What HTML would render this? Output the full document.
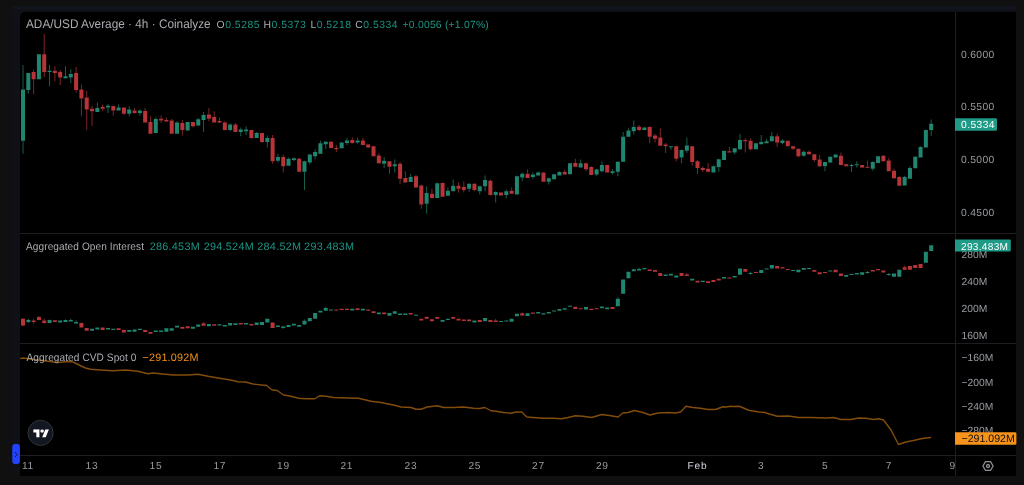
<!DOCTYPE html>
<html><head><meta charset="utf-8"><style>
html,body{margin:0;padding:0;}
body{width:1024px;height:485px;overflow:hidden;background:#101010;position:relative;font-family:"Liberation Sans",sans-serif;}
#frame{position:absolute;left:12px;top:6px;width:1004px;height:470px;background:#101116;}
#band{position:absolute;left:13px;top:6px;width:1003px;height:3px;background:#12151d;}
#chart{position:absolute;left:20px;top:12px;width:996px;height:464px;background:#000;border-top-left-radius:5px;}
#layer{position:absolute;left:0;top:0;width:1024px;height:485px;will-change:transform;}
svg{position:absolute;left:0;top:0;}
</style></head><body>
<div id="frame"></div>
<div id="band"></div>
<div id="chart"></div>
<div id="layer"><svg width="1024" height="485" viewBox="0 0 1024 485" font-family="Liberation Sans, sans-serif" text-rendering="geometricPrecision">
<defs>
<clipPath id="c1"><rect x="20" y="12" width="935" height="221"/></clipPath>
<clipPath id="c2"><rect x="20" y="234" width="935" height="109"/></clipPath>
<clipPath id="c3"><rect x="20" y="344" width="935" height="111"/></clipPath>
</defs>
<!-- separators -->
<rect x="20" y="233" width="996" height="1" fill="#1d1d22"/>
<rect x="20" y="343" width="996" height="1" fill="#1d1d22"/>
<rect x="20" y="455" width="996" height="1" fill="#1d1d22"/>
<rect x="955" y="12" width="1" height="464" fill="#1d1d22"/>
<g clip-path="url(#c1)"><path fill="#21866f" opacity="0.7" d="M22.50 65.00h1v24.50h-1zM22.50 140.75h1v13.00h-1zM27.81 90.00h1v3.75h-1zM49.05 65.00h1v5.75h-1zM49.05 72.00h1v14.25h-1zM64.99 66.25h1v10.00h-1zM64.99 78.25h1v0.50h-1zM70.30 69.25h1v4.75h-1zM70.30 77.50h1v5.75h-1zM96.85 102.50h1v5.50h-1zM107.48 104.00h1v1.75h-1zM107.48 107.50h1v5.50h-1zM118.10 104.50h1v3.00h-1zM128.72 106.25h1v3.25h-1zM128.72 113.75h1v2.50h-1zM139.34 109.50h1v1.00h-1zM139.34 113.00h1v2.50h-1zM155.28 117.50h1v1.50h-1zM176.52 121.25h1v1.25h-1zM197.76 118.00h1v1.25h-1zM197.76 125.50h1v0.75h-1zM203.07 112.00h1v3.00h-1zM203.07 120.00h1v12.00h-1zM229.63 123.25h1v1.25h-1zM229.63 130.00h1v1.25h-1zM240.25 127.50h1v2.00h-1zM240.25 132.00h1v4.25h-1zM245.56 126.25h1v3.25h-1zM245.56 131.25h1v3.75h-1zM256.18 132.00h1v1.00h-1zM266.81 135.50h1v2.50h-1zM266.81 142.00h1v5.50h-1zM277.43 153.75h1v3.25h-1zM277.43 160.75h1v1.75h-1zM288.05 157.50h1v1.25h-1zM293.36 157.50h1v0.75h-1zM293.36 160.00h1v1.25h-1zM303.98 160.75h1v0.50h-1zM303.98 171.75h1v18.25h-1zM309.29 153.75h1v0.75h-1zM309.29 162.50h1v2.00h-1zM314.61 149.50h1v2.50h-1zM314.61 156.25h1v3.25h-1zM319.92 140.75h1v2.50h-1zM325.23 141.25h1v0.50h-1zM325.23 144.25h1v4.50h-1zM341.16 142.00h1v0.50h-1zM346.47 138.00h1v2.50h-1zM346.47 143.00h1v2.00h-1zM357.09 138.00h1v2.50h-1zM357.09 142.50h1v1.25h-1zM383.65 157.00h1v3.75h-1zM383.65 163.75h1v4.25h-1zM394.27 159.50h1v4.75h-1zM394.27 166.25h1v6.25h-1zM410.20 173.75h1v3.25h-1zM426.14 186.25h1v6.75h-1zM426.14 203.75h1v10.00h-1zM436.76 182.50h1v0.75h-1zM447.38 187.50h1v3.25h-1zM452.69 179.50h1v6.25h-1zM468.62 183.25h1v0.50h-1zM468.62 188.75h1v3.00h-1zM479.25 185.50h1v0.75h-1zM479.25 191.25h1v3.25h-1zM484.56 175.50h1v4.50h-1zM484.56 186.25h1v5.00h-1zM495.18 191.25h1v0.75h-1zM495.18 195.00h1v7.50h-1zM505.80 189.50h1v1.75h-1zM505.80 195.00h1v3.25h-1zM516.42 175.50h1v0.75h-1zM521.73 172.50h1v1.25h-1zM521.73 177.50h1v3.75h-1zM532.36 172.50h1v2.00h-1zM532.36 177.00h1v1.75h-1zM537.67 171.25h1v1.25h-1zM548.29 177.50h1v0.75h-1zM548.29 181.75h1v2.75h-1zM553.60 173.75h1v0.50h-1zM558.91 171.25h1v0.75h-1zM580.15 159.50h1v3.75h-1zM596.09 168.75h1v0.75h-1zM596.09 174.50h1v1.75h-1zM601.40 161.25h1v3.75h-1zM601.40 171.25h1v1.25h-1zM612.02 169.25h1v2.00h-1zM612.02 173.00h1v1.50h-1zM617.33 161.25h1v0.50h-1zM617.33 171.75h1v4.50h-1zM622.64 132.00h1v4.75h-1zM627.95 128.00h1v2.50h-1zM633.26 120.50h1v6.50h-1zM633.26 131.25h1v3.25h-1zM643.89 127.00h1v0.50h-1zM670.44 147.00h1v3.00h-1zM681.06 149.50h1v0.50h-1zM681.06 157.50h1v5.75h-1zM686.38 137.50h1v8.00h-1zM686.38 150.75h1v2.25h-1zM712.93 165.50h1v0.75h-1zM718.24 158.75h1v0.50h-1zM718.24 167.00h1v4.75h-1zM734.17 152.50h1v1.75h-1zM739.49 133.75h1v6.25h-1zM739.49 149.25h1v0.75h-1zM760.73 135.00h1v7.00h-1zM766.04 138.75h1v2.50h-1zM771.35 132.00h1v4.25h-1zM781.97 139.25h1v1.25h-1zM781.97 143.00h1v1.25h-1zM803.22 150.50h1v1.25h-1zM803.22 155.75h1v1.00h-1zM824.46 166.25h1v5.00h-1zM829.77 156.25h1v0.50h-1zM829.77 162.50h1v0.75h-1zM835.08 153.75h1v0.75h-1zM835.08 157.50h1v0.75h-1zM851.02 163.75h1v1.25h-1zM851.02 165.75h1v6.25h-1zM856.33 161.25h1v3.00h-1zM856.33 165.00h1v2.50h-1zM872.26 161.25h1v0.75h-1zM872.26 168.75h1v2.00h-1zM904.13 175.75h1v1.25h-1zM909.44 166.25h1v1.75h-1zM914.75 156.25h1v0.50h-1zM920.06 146.25h1v0.75h-1zM925.37 129.50h1v0.50h-1zM930.68 119.50h1v4.25h-1zM930.68 130.00h1v5.75h-1z"/><path fill="#b73538" opacity="0.7" d="M33.12 69.50h1v2.50h-1zM33.12 79.25h1v15.25h-1zM43.74 34.00h1v20.25h-1zM43.74 72.00h1v5.00h-1zM54.37 66.25h1v4.50h-1zM54.37 73.00h1v8.25h-1zM59.68 70.00h1v2.00h-1zM59.68 77.50h1v7.50h-1zM75.61 67.00h1v6.00h-1zM75.61 90.00h1v2.50h-1zM80.92 84.50h1v5.00h-1zM80.92 98.50h1v17.75h-1zM86.23 90.75h1v6.75h-1zM86.23 109.50h1v20.50h-1zM91.54 105.75h1v3.00h-1zM91.54 111.25h1v14.50h-1zM102.16 104.50h1v2.50h-1zM102.16 108.75h1v2.50h-1zM112.79 110.50h1v5.25h-1zM123.41 113.75h1v1.25h-1zM134.03 108.00h1v2.50h-1zM134.03 113.00h1v0.75h-1zM144.65 108.00h1v3.00h-1zM149.96 116.25h1v5.75h-1zM160.59 115.50h1v3.25h-1zM160.59 120.50h1v2.50h-1zM165.90 117.50h1v2.50h-1zM171.21 119.00h1v1.50h-1zM181.83 120.00h1v3.00h-1zM181.83 130.00h1v5.50h-1zM192.45 126.25h1v1.25h-1zM208.38 108.00h1v6.50h-1zM208.38 118.75h1v2.50h-1zM213.70 111.25h1v5.75h-1zM219.01 117.50h1v3.50h-1zM219.01 122.50h1v0.50h-1zM224.32 121.25h1v1.25h-1zM224.32 130.00h1v0.50h-1zM234.94 123.00h1v1.50h-1zM250.87 138.00h1v0.75h-1zM261.50 142.00h1v1.00h-1zM272.12 135.00h1v3.00h-1zM272.12 161.25h1v2.50h-1zM282.74 154.50h1v2.50h-1zM282.74 166.25h1v6.25h-1zM298.67 158.00h1v0.75h-1zM330.54 141.25h1v0.50h-1zM335.85 145.00h1v3.00h-1zM335.85 149.25h1v2.75h-1zM351.78 137.50h1v2.50h-1zM351.78 143.00h1v0.75h-1zM362.40 138.00h1v2.50h-1zM367.71 143.75h1v0.75h-1zM367.71 147.50h1v0.75h-1zM373.03 145.75h1v0.50h-1zM378.34 153.00h1v2.50h-1zM378.34 163.25h1v0.50h-1zM388.96 166.75h1v7.00h-1zM399.58 162.00h1v1.75h-1zM399.58 178.75h1v5.00h-1zM404.89 171.25h1v6.75h-1zM415.51 175.00h1v1.25h-1zM415.51 187.50h1v0.50h-1zM420.82 184.50h1v1.00h-1zM420.82 204.50h1v4.25h-1zM431.45 188.75h1v5.00h-1zM431.45 198.00h1v0.75h-1zM442.07 182.50h1v0.50h-1zM458.00 182.50h1v3.25h-1zM458.00 188.75h1v3.75h-1zM463.31 181.25h1v5.75h-1zM463.31 190.00h1v2.50h-1zM473.94 183.25h1v0.50h-1zM473.94 190.00h1v1.25h-1zM489.87 179.50h1v1.25h-1zM489.87 195.00h1v0.50h-1zM500.49 192.00h1v0.50h-1zM511.11 187.50h1v3.25h-1zM527.05 169.25h1v4.50h-1zM564.22 170.00h1v2.00h-1zM574.84 158.75h1v4.25h-1zM585.47 162.50h1v0.75h-1zM585.47 169.25h1v2.00h-1zM590.78 166.25h1v0.75h-1zM638.58 125.00h1v1.75h-1zM638.58 130.00h1v1.25h-1zM649.20 126.25h1v0.75h-1zM649.20 136.75h1v6.50h-1zM654.51 133.75h1v1.75h-1zM654.51 138.75h1v3.75h-1zM659.82 128.25h1v9.25h-1zM665.13 143.00h1v1.50h-1zM665.13 146.25h1v6.75h-1zM675.75 145.75h1v0.50h-1zM675.75 158.75h1v2.50h-1zM691.69 162.00h1v3.50h-1zM697.00 160.00h1v1.25h-1zM697.00 168.00h1v6.25h-1zM702.31 166.25h1v1.75h-1zM702.31 170.00h1v2.00h-1zM707.62 163.00h1v5.75h-1zM707.62 171.75h1v0.75h-1zM728.86 147.00h1v4.25h-1zM744.80 138.25h1v1.75h-1zM744.80 141.25h1v11.25h-1zM750.11 138.25h1v2.50h-1zM750.11 149.25h1v1.25h-1zM776.66 133.75h1v2.50h-1zM776.66 142.50h1v4.25h-1zM792.60 145.75h1v0.50h-1zM792.60 148.75h1v1.25h-1zM797.91 156.25h1v1.25h-1zM808.53 150.50h1v1.25h-1zM813.84 160.00h1v1.75h-1zM819.15 155.00h1v4.50h-1zM819.15 166.25h1v0.50h-1zM840.39 152.50h1v3.25h-1zM840.39 165.00h1v0.50h-1zM845.71 163.75h1v0.50h-1zM861.64 167.50h1v0.50h-1zM866.95 160.50h1v6.25h-1zM866.95 167.50h1v0.50h-1zM882.88 155.00h1v0.75h-1zM882.88 161.25h1v0.50h-1zM888.19 158.25h1v2.25h-1zM893.50 168.75h1v2.00h-1zM893.50 178.25h1v0.50h-1zM898.81 176.25h1v0.75h-1zM898.81 185.75h1v0.50h-1z"/><path fill="#21866f" d="M21.00 89.50h4.0v51.25h-4.0zM26.31 73.00h4.0v17.00h-4.0zM36.93 54.25h4.0v25.00h-4.0zM47.55 70.75h4.0v1.25h-4.0zM63.49 76.25h4.0v2.00h-4.0zM68.80 74.00h4.0v3.50h-4.0zM95.35 108.00h4.0v4.00h-4.0zM105.98 105.75h4.0v1.75h-4.0zM116.60 107.50h4.0v3.00h-4.0zM127.22 109.50h4.0v4.25h-4.0zM137.84 110.50h4.0v2.50h-4.0zM153.78 119.00h4.0v14.00h-4.0zM175.02 122.50h4.0v11.25h-4.0zM185.64 122.00h4.0v8.50h-4.0zM196.26 119.25h4.0v6.25h-4.0zM201.57 115.00h4.0v5.00h-4.0zM228.13 124.50h4.0v5.50h-4.0zM238.75 129.50h4.0v2.50h-4.0zM244.06 129.50h4.0v1.75h-4.0zM254.68 133.00h4.0v5.00h-4.0zM265.31 138.00h4.0v4.00h-4.0zM275.93 157.00h4.0v3.75h-4.0zM286.55 158.75h4.0v7.00h-4.0zM291.86 158.25h4.0v1.75h-4.0zM302.48 161.25h4.0v10.50h-4.0zM307.79 154.50h4.0v8.00h-4.0zM313.11 152.00h4.0v4.25h-4.0zM318.42 143.25h4.0v10.50h-4.0zM323.73 141.75h4.0v2.50h-4.0zM339.66 142.50h4.0v5.75h-4.0zM344.97 140.50h4.0v2.50h-4.0zM355.59 140.50h4.0v2.00h-4.0zM382.15 160.75h4.0v3.00h-4.0zM392.77 164.25h4.0v2.00h-4.0zM408.70 177.00h4.0v5.00h-4.0zM424.64 193.00h4.0v10.75h-4.0zM435.26 183.25h4.0v14.75h-4.0zM445.88 190.75h4.0v5.00h-4.0zM451.19 185.75h4.0v5.50h-4.0zM467.12 183.75h4.0v5.00h-4.0zM477.75 186.25h4.0v5.00h-4.0zM483.06 180.00h4.0v6.25h-4.0zM493.68 192.00h4.0v3.00h-4.0zM504.30 191.25h4.0v3.75h-4.0zM514.92 176.25h4.0v18.25h-4.0zM520.23 173.75h4.0v3.75h-4.0zM530.86 174.50h4.0v2.50h-4.0zM536.17 172.50h4.0v3.00h-4.0zM546.79 178.25h4.0v3.50h-4.0zM552.10 174.25h4.0v5.00h-4.0zM557.41 172.00h4.0v3.50h-4.0zM568.03 163.25h4.0v11.00h-4.0zM578.65 163.25h4.0v4.25h-4.0zM594.59 169.50h4.0v5.00h-4.0zM599.90 165.00h4.0v6.25h-4.0zM610.52 171.25h4.0v1.75h-4.0zM615.83 161.75h4.0v10.00h-4.0zM621.14 136.75h4.0v25.00h-4.0zM626.45 130.50h4.0v6.25h-4.0zM631.76 127.00h4.0v4.25h-4.0zM642.39 127.50h4.0v2.50h-4.0zM668.94 146.25h4.0v1.00h-4.0zM679.56 150.00h4.0v7.50h-4.0zM684.88 145.50h4.0v5.25h-4.0zM711.43 166.25h4.0v6.25h-4.0zM716.74 159.25h4.0v7.75h-4.0zM722.05 150.75h4.0v9.25h-4.0zM732.67 148.25h4.0v4.25h-4.0zM737.99 140.00h4.0v9.25h-4.0zM753.92 143.25h4.0v6.00h-4.0zM759.23 142.00h4.0v2.25h-4.0zM764.54 141.25h4.0v2.00h-4.0zM769.85 136.25h4.0v5.00h-4.0zM780.47 140.50h4.0v2.50h-4.0zM801.72 151.75h4.0v4.00h-4.0zM822.96 162.00h4.0v4.25h-4.0zM828.27 156.75h4.0v5.75h-4.0zM833.58 154.50h4.0v3.00h-4.0zM849.52 165.00h4.0v1.00h-4.0zM854.83 164.25h4.0v1.00h-4.0zM870.76 162.00h4.0v6.75h-4.0zM876.07 156.25h4.0v6.75h-4.0zM902.63 177.00h4.0v8.50h-4.0zM907.94 168.00h4.0v10.75h-4.0zM913.25 156.75h4.0v11.50h-4.0zM918.56 147.00h4.0v10.50h-4.0zM923.87 130.00h4.0v17.50h-4.0zM929.18 123.75h4.0v6.25h-4.0z"/><path fill="#b73538" d="M31.62 72.00h4.0v7.25h-4.0zM42.24 54.25h4.0v17.75h-4.0zM52.87 70.75h4.0v2.25h-4.0zM58.18 72.00h4.0v5.50h-4.0zM74.11 73.00h4.0v17.00h-4.0zM79.42 89.50h4.0v9.00h-4.0zM84.73 97.50h4.0v12.00h-4.0zM90.04 108.75h4.0v2.50h-4.0zM100.66 107.00h4.0v1.75h-4.0zM111.29 106.00h4.0v4.50h-4.0zM121.91 107.50h4.0v6.25h-4.0zM132.53 110.50h4.0v2.50h-4.0zM143.15 111.00h4.0v11.50h-4.0zM148.46 122.00h4.0v11.75h-4.0zM159.09 118.75h4.0v1.75h-4.0zM164.40 120.00h4.0v1.50h-4.0zM169.71 120.50h4.0v13.25h-4.0zM180.33 123.00h4.0v7.00h-4.0zM190.95 122.00h4.0v4.25h-4.0zM206.88 114.50h4.0v4.25h-4.0zM212.20 117.00h4.0v5.50h-4.0zM217.51 121.00h4.0v1.50h-4.0zM222.82 122.50h4.0v7.50h-4.0zM233.44 124.50h4.0v7.50h-4.0zM249.37 130.00h4.0v8.00h-4.0zM260.00 133.00h4.0v9.00h-4.0zM270.62 138.00h4.0v23.25h-4.0zM281.24 157.00h4.0v9.25h-4.0zM297.17 158.75h4.0v13.00h-4.0zM329.04 141.75h4.0v6.25h-4.0zM334.35 148.00h4.0v1.25h-4.0zM350.28 140.00h4.0v3.00h-4.0zM360.90 140.50h4.0v4.50h-4.0zM366.21 144.50h4.0v3.00h-4.0zM371.53 146.25h4.0v10.00h-4.0zM376.84 155.50h4.0v7.75h-4.0zM387.46 161.25h4.0v5.50h-4.0zM398.08 163.75h4.0v15.00h-4.0zM403.39 178.00h4.0v4.50h-4.0zM414.01 176.25h4.0v11.25h-4.0zM419.32 185.50h4.0v19.00h-4.0zM429.95 193.75h4.0v4.25h-4.0zM440.57 183.00h4.0v13.75h-4.0zM456.50 185.75h4.0v3.00h-4.0zM461.81 187.00h4.0v3.00h-4.0zM472.44 183.75h4.0v6.25h-4.0zM488.37 180.75h4.0v14.25h-4.0zM498.99 192.50h4.0v3.00h-4.0zM509.61 190.75h4.0v3.00h-4.0zM525.55 173.75h4.0v4.25h-4.0zM541.48 172.50h4.0v9.25h-4.0zM562.72 172.00h4.0v2.50h-4.0zM573.34 163.00h4.0v3.75h-4.0zM583.97 163.25h4.0v6.00h-4.0zM589.28 167.00h4.0v8.00h-4.0zM605.21 165.00h4.0v7.50h-4.0zM637.08 126.75h4.0v3.25h-4.0zM647.70 127.00h4.0v9.75h-4.0zM653.01 135.50h4.0v3.25h-4.0zM658.32 137.50h4.0v8.25h-4.0zM663.63 144.50h4.0v1.75h-4.0zM674.25 146.25h4.0v12.50h-4.0zM690.19 146.25h4.0v15.75h-4.0zM695.50 161.25h4.0v6.75h-4.0zM700.81 168.00h4.0v2.00h-4.0zM706.12 168.75h4.0v3.00h-4.0zM727.36 151.25h4.0v1.25h-4.0zM743.30 140.00h4.0v1.25h-4.0zM748.61 140.75h4.0v8.50h-4.0zM775.16 136.25h4.0v6.25h-4.0zM785.78 140.75h4.0v5.50h-4.0zM791.10 146.25h4.0v2.50h-4.0zM796.41 148.75h4.0v7.50h-4.0zM807.03 151.75h4.0v2.50h-4.0zM812.34 154.25h4.0v5.75h-4.0zM817.65 159.50h4.0v6.75h-4.0zM838.89 155.75h4.0v9.25h-4.0zM844.21 164.25h4.0v2.00h-4.0zM860.14 165.00h4.0v2.50h-4.0zM865.45 166.75h4.0v1.00h-4.0zM881.38 155.75h4.0v5.50h-4.0zM886.69 160.50h4.0v10.75h-4.0zM892.00 170.75h4.0v7.50h-4.0zM897.31 177.00h4.0v8.75h-4.0z"/></g>
<g clip-path="url(#c2)"><path fill="#21866f" opacity="0.7" d="M27.81 318.75h1v1.25h-1zM27.81 322.00h1v1.00h-1zM49.05 319.50h1v0.50h-1zM64.99 319.50h1v0.50h-1zM70.30 318.75h1v1.25h-1zM75.61 320.50h1v1.50h-1zM282.74 325.75h1v0.75h-1zM282.74 328.00h1v0.75h-1zM303.98 319.50h1v1.25h-1zM303.98 324.50h1v0.50h-1zM325.23 307.00h1v1.00h-1zM617.33 297.00h1v1.75h-1zM638.58 267.50h1v1.50h-1zM750.11 271.75h1v1.25h-1zM750.11 273.50h1v1.25h-1zM866.95 271.00h1v1.00h-1zM866.95 272.75h1v1.00h-1zM888.19 273.00h1v1.00h-1zM888.19 275.00h1v0.75h-1z"/><path fill="#b73538" opacity="0.7" d="M22.50 318.00h1v0.75h-1zM22.50 325.50h1v0.75h-1zM33.12 318.75h1v1.75h-1zM33.12 322.00h1v1.75h-1zM38.43 316.25h1v0.75h-1zM43.74 318.75h1v1.75h-1zM43.74 323.00h1v0.75h-1zM80.92 322.50h1v0.50h-1zM203.07 322.00h1v1.25h-1zM426.14 316.25h1v0.75h-1zM495.18 318.75h1v1.75h-1zM521.73 312.50h1v0.75h-1zM521.73 315.50h1v0.75h-1zM686.38 273.00h1v1.50h-1zM904.13 265.50h1v1.75h-1z"/><path fill="#21866f" d="M26.31 320.00h4.0v2.00h-4.0zM47.55 320.00h4.0v3.00h-4.0zM58.18 320.50h4.0v2.00h-4.0zM63.49 320.00h4.0v2.00h-4.0zM68.80 320.00h4.0v1.50h-4.0zM74.11 322.00h4.0v1.50h-4.0zM90.04 328.75h4.0v2.00h-4.0zM95.35 327.50h4.0v2.00h-4.0zM105.98 328.00h4.0v1.50h-4.0zM111.29 328.75h4.0v1.25h-4.0zM127.22 330.00h4.0v1.75h-4.0zM132.53 329.50h4.0v2.25h-4.0zM137.84 328.75h4.0v1.25h-4.0zM153.78 330.50h4.0v1.50h-4.0zM159.09 330.50h4.0v1.50h-4.0zM164.40 328.25h4.0v3.50h-4.0zM169.71 328.25h4.0v2.50h-4.0zM175.02 325.75h4.0v1.75h-4.0zM190.95 326.75h4.0v2.00h-4.0zM196.26 324.50h4.0v2.25h-4.0zM206.88 324.00h4.0v2.25h-4.0zM217.51 324.25h4.0v1.25h-4.0zM222.82 325.00h4.0v1.50h-4.0zM228.13 323.00h4.0v2.50h-4.0zM233.44 323.25h4.0v1.75h-4.0zM244.06 323.00h4.0v1.50h-4.0zM254.68 322.50h4.0v2.50h-4.0zM260.00 322.00h4.0v3.00h-4.0zM265.31 318.75h4.0v3.75h-4.0zM275.93 325.50h4.0v1.50h-4.0zM281.24 326.50h4.0v1.50h-4.0zM286.55 325.00h4.0v2.00h-4.0zM291.86 323.75h4.0v1.75h-4.0zM297.17 325.00h4.0v1.75h-4.0zM302.48 320.75h4.0v3.75h-4.0zM307.79 318.00h4.0v3.25h-4.0zM313.11 313.00h4.0v5.75h-4.0zM318.42 310.75h4.0v1.75h-4.0zM323.73 308.00h4.0v2.75h-4.0zM329.04 309.50h4.0v1.00h-4.0zM350.28 308.75h4.0v1.75h-4.0zM360.90 308.75h4.0v1.75h-4.0zM376.84 312.50h4.0v1.75h-4.0zM387.46 313.00h4.0v2.75h-4.0zM392.77 311.25h4.0v2.50h-4.0zM398.08 313.50h4.0v1.50h-4.0zM403.39 313.50h4.0v1.50h-4.0zM414.01 314.75h4.0v1.00h-4.0zM440.57 320.00h4.0v1.75h-4.0zM445.88 318.75h4.0v1.25h-4.0zM472.44 320.50h4.0v2.00h-4.0zM483.06 318.00h4.0v3.25h-4.0zM498.99 321.00h4.0v1.00h-4.0zM504.30 320.50h4.0v1.00h-4.0zM509.61 318.75h4.0v3.00h-4.0zM514.92 313.75h4.0v2.50h-4.0zM525.55 313.25h4.0v2.75h-4.0zM536.17 312.00h4.0v1.50h-4.0zM541.48 313.25h4.0v1.25h-4.0zM546.79 312.00h4.0v1.50h-4.0zM552.10 310.50h4.0v1.00h-4.0zM557.41 309.00h4.0v1.75h-4.0zM562.72 308.25h4.0v1.50h-4.0zM568.03 305.75h4.0v1.00h-4.0zM583.97 307.00h4.0v2.50h-4.0zM599.90 306.50h4.0v1.75h-4.0zM605.21 307.50h4.0v1.75h-4.0zM615.83 298.75h4.0v7.50h-4.0zM621.14 279.50h4.0v14.25h-4.0zM626.45 271.75h4.0v6.50h-4.0zM631.76 269.25h4.0v2.00h-4.0zM637.08 269.00h4.0v1.50h-4.0zM642.39 268.00h4.0v1.25h-4.0zM663.63 274.50h4.0v1.50h-4.0zM668.94 273.75h4.0v1.75h-4.0zM674.25 275.50h4.0v2.00h-4.0zM690.19 278.75h4.0v1.75h-4.0zM700.81 280.75h4.0v1.25h-4.0zM722.05 277.00h4.0v1.50h-4.0zM732.67 276.00h4.0v1.50h-4.0zM737.99 268.50h4.0v6.25h-4.0zM748.61 273.00h4.0v1.00h-4.0zM759.23 270.00h4.0v3.00h-4.0zM764.54 268.50h4.0v1.00h-4.0zM769.85 265.00h4.0v3.50h-4.0zM791.10 270.00h4.0v1.00h-4.0zM796.41 269.75h4.0v2.50h-4.0zM801.72 268.00h4.0v1.75h-4.0zM807.03 268.00h4.0v1.00h-4.0zM828.27 270.50h4.0v1.00h-4.0zM844.21 275.00h4.0v1.75h-4.0zM849.52 274.00h4.0v1.00h-4.0zM854.83 273.00h4.0v1.50h-4.0zM860.14 272.25h4.0v2.50h-4.0zM865.45 272.00h4.0v1.00h-4.0zM886.69 274.00h4.0v1.00h-4.0zM892.00 273.50h4.0v3.25h-4.0zM897.31 269.75h4.0v7.00h-4.0zM923.87 251.75h4.0v11.00h-4.0zM929.18 245.25h4.0v5.75h-4.0z"/><path fill="#b73538" d="M21.00 318.75h4.0v6.75h-4.0zM31.62 320.50h4.0v1.50h-4.0zM36.93 317.00h4.0v3.00h-4.0zM42.24 320.50h4.0v2.50h-4.0zM52.87 320.25h4.0v1.75h-4.0zM79.42 323.00h4.0v4.50h-4.0zM84.73 328.00h4.0v2.75h-4.0zM100.66 327.50h4.0v2.50h-4.0zM116.60 328.25h4.0v1.75h-4.0zM121.91 330.00h4.0v2.50h-4.0zM143.15 330.00h4.0v2.00h-4.0zM148.46 332.00h4.0v1.75h-4.0zM180.33 327.00h4.0v1.75h-4.0zM185.64 326.25h4.0v2.00h-4.0zM201.57 323.25h4.0v2.50h-4.0zM212.20 324.25h4.0v1.50h-4.0zM238.75 323.00h4.0v1.50h-4.0zM249.37 324.00h4.0v1.50h-4.0zM270.62 322.50h4.0v5.50h-4.0zM334.35 309.50h4.0v1.00h-4.0zM339.66 308.75h4.0v1.25h-4.0zM344.97 308.75h4.0v1.25h-4.0zM355.59 308.25h4.0v1.75h-4.0zM366.21 309.50h4.0v1.25h-4.0zM371.53 311.25h4.0v1.75h-4.0zM382.15 312.50h4.0v1.75h-4.0zM408.70 313.00h4.0v1.50h-4.0zM419.32 318.75h4.0v1.75h-4.0zM424.64 317.00h4.0v1.75h-4.0zM429.95 319.25h4.0v2.00h-4.0zM435.26 317.00h4.0v1.75h-4.0zM451.19 317.00h4.0v1.75h-4.0zM456.50 318.75h4.0v1.75h-4.0zM461.81 319.50h4.0v1.50h-4.0zM467.12 319.50h4.0v1.75h-4.0zM477.75 320.00h4.0v2.00h-4.0zM488.37 320.00h4.0v2.00h-4.0zM493.68 320.50h4.0v1.50h-4.0zM520.23 313.25h4.0v2.25h-4.0zM530.86 312.50h4.0v1.25h-4.0zM573.34 306.75h4.0v2.25h-4.0zM578.65 308.25h4.0v1.00h-4.0zM589.28 308.75h4.0v1.25h-4.0zM594.59 308.25h4.0v1.00h-4.0zM610.52 307.00h4.0v2.00h-4.0zM647.70 269.50h4.0v1.50h-4.0zM653.01 270.00h4.0v1.75h-4.0zM658.32 273.00h4.0v3.00h-4.0zM679.56 273.00h4.0v3.00h-4.0zM684.88 274.50h4.0v1.50h-4.0zM695.50 280.75h4.0v1.75h-4.0zM706.12 281.25h4.0v1.75h-4.0zM711.43 280.00h4.0v2.00h-4.0zM716.74 278.75h4.0v1.75h-4.0zM727.36 277.50h4.0v1.00h-4.0zM743.30 269.00h4.0v2.75h-4.0zM753.92 272.00h4.0v1.00h-4.0zM775.16 266.00h4.0v2.50h-4.0zM780.47 267.25h4.0v1.25h-4.0zM785.78 269.00h4.0v1.00h-4.0zM812.34 270.00h4.0v1.75h-4.0zM817.65 272.25h4.0v2.00h-4.0zM822.96 272.00h4.0v1.00h-4.0zM833.58 269.75h4.0v2.50h-4.0zM838.89 273.50h4.0v2.50h-4.0zM870.76 270.00h4.0v1.50h-4.0zM876.07 269.00h4.0v1.25h-4.0zM881.38 270.50h4.0v2.00h-4.0zM902.63 267.25h4.0v2.50h-4.0zM907.94 266.00h4.0v3.75h-4.0zM913.25 265.00h4.0v3.00h-4.0zM918.56 264.00h4.0v4.00h-4.0z"/></g>
<g clip-path="url(#c3)"><path d="M19.25 358.75 L23.00 358.00 L28.00 358.75 L38.00 360.00 L48.00 361.25 L58.00 362.50 L68.00 361.50 L73.00 362.00 L78.00 364.50 L85.50 368.00 L90.50 369.25 L100.50 370.00 L113.00 370.75 L125.50 370.00 L138.00 371.25 L148.00 373.75 L153.00 373.00 L163.00 374.00 L173.00 375.00 L188.00 375.00 L198.00 374.25 L208.00 376.25 L218.00 378.00 L230.50 380.00 L238.00 381.75 L245.50 382.00 L253.00 384.00 L265.50 385.50 L266.00 385.00 L270.50 388.75 L272.25 390.00 L277.25 390.50 L283.50 395.00 L291.00 396.25 L298.50 398.25 L306.00 398.75 L314.75 398.75 L319.75 395.75 L326.00 396.25 L333.50 397.50 L348.50 398.00 L358.50 398.25 L366.00 400.00 L371.00 401.25 L381.00 402.50 L393.50 405.00 L401.00 407.00 L411.00 407.50 L416.00 409.25 L421.00 409.25 L427.25 407.00 L437.25 405.75 L443.50 407.50 L453.50 407.50 L463.50 407.00 L473.50 408.25 L479.75 408.50 L484.75 407.50 L491.00 410.75 L496.00 411.25 L503.50 412.50 L511.00 413.25 L516.00 412.00 L521.75 412.00 L526.75 417.00 L533.00 417.50 L543.00 418.25 L553.00 418.25 L561.75 418.75 L568.00 417.50 L575.50 415.75 L583.00 416.25 L591.75 417.50 L601.75 414.50 L609.25 415.50 L618.00 417.00 L623.00 413.00 L628.00 412.50 L634.25 410.50 L643.00 412.50 L650.00 415.00 L658.00 413.00 L668.00 412.50 L675.50 413.00 L680.50 412.00 L686.00 406.25 L693.00 407.50 L700.50 408.25 L708.00 409.50 L715.50 409.50 L723.00 406.75 L726.00 407.00 L730.50 406.25 L733.50 406.50 L739.25 406.25 L739.75 406.50 L743.50 408.00 L748.00 410.00 L749.75 410.50 L758.00 411.75 L758.50 412.00 L765.50 412.50 L766.00 413.00 L777.25 416.25 L788.50 416.00 L798.50 417.50 L811.00 417.50 L826.00 418.00 L833.50 417.50 L841.00 419.50 L851.00 419.50 L858.50 418.00 L866.00 418.25 L873.50 419.50 L878.50 418.75 L883.50 420.00 L891.00 430.00 L898.50 444.50 L906.00 442.00 L913.50 440.50 L921.00 438.75 L926.00 438.00 L931.00 437.50" fill="none" stroke="#824c0b" stroke-width="1.4" stroke-linejoin="round"/></g>

<!-- legends -->
<text transform="translate(26 28.1) scale(1 1.06)" font-size="11.8" fill="#a9abb0">ADA/USD Average · 4h · Coinalyze</text>
<g font-size="10.4">
<text x="216.6" y="28.4" fill="#a9abb0" letter-spacing="0.5">O<tspan fill="#1d9282">0.5285</tspan></text>
<text x="263.6" y="28.4" fill="#a9abb0" letter-spacing="0.5">H<tspan fill="#1d9282">0.5373</tspan></text>
<text x="310.4" y="28.4" fill="#a9abb0" letter-spacing="0.5">L<tspan fill="#1d9282">0.5218</tspan></text>
<text x="355.3" y="28.4" fill="#a9abb0" letter-spacing="0.5">C<tspan fill="#1d9282">0.5334</tspan></text>
<text x="402.6" y="28.4" fill="#1d9282" letter-spacing="0.2">+0.0056 (+1.07%)</text>
</g>
<text transform="translate(26 249.6) scale(1 1.07)" font-size="10.1" fill="#a9abb0" letter-spacing="0.08">Aggregated Open Interest</text>
<g font-size="10.8" fill="#1d9282" letter-spacing="0.28">
<text x="149.7" y="249.5">286.453M</text>
<text x="203.7" y="249.5">294.524M</text>
<text x="257.3" y="249.5">284.52M</text>
<text x="304.1" y="249.5">293.483M</text>
</g>
<text transform="translate(26.5 360.6) scale(1 1.07)" font-size="10.1" fill="#a9abb0" letter-spacing="0.08">Aggregated CVD Spot 0</text>
<text x="142.5" y="360.6" font-size="10.8" fill="#f0901c" letter-spacing="0.2">−291.092M</text>

<!-- price axis -->
<g font-size="10.3" fill="#979a9f" letter-spacing="0.35">
<text x="961" y="57.8">0.6000</text>
<text x="961" y="110.1">0.5500</text>
<text x="961" y="162.6">0.5000</text>
<text x="961" y="215.9">0.4500</text>
</g>
<path d="M955 118.2h40.7a1.3 1.3 0 0 1 1.3 1.3v9.9a1.3 1.3 0 0 1 -1.3 1.3h-40.7z" fill="#1f9a86"/>
<text x="961" y="128.2" font-size="10.3" fill="#fff" letter-spacing="0.4">0.5334</text>
<g font-size="10.3" fill="#979a9f">
<text x="961.5" y="258.4">280M</text>
<text x="961.5" y="285.3">240M</text>
<text x="961.5" y="312.3">200M</text>
<text x="961.5" y="338.5">160M</text>
</g>
<path d="M955 239.4h54.5a1.3 1.3 0 0 1 1.3 1.3v9.6a1.3 1.3 0 0 1 -1.3 1.3h-54.5z" fill="#1f9a86"/>
<text x="961" y="249.8" font-size="10.1" fill="#fff" letter-spacing="0.3">293.483M</text>
<g font-size="10.3" fill="#979a9f">
<text x="961.5" y="360.9">−160M</text>
<text x="961.5" y="385.7">−200M</text>
<text x="961.5" y="409.9">−240M</text>
<text x="961.5" y="434.2">−280M</text>
</g>
<path d="M955 432.2h60.1a1.3 1.3 0 0 1 1.3 1.3v9.9a1.3 1.3 0 0 1 -1.3 1.3h-60.1z" fill="#f7931a"/>
<text x="961.5" y="442" font-size="10.6" fill="#111">−291.092M</text>

<!-- time axis -->
<g font-size="10.2" fill="#979a9f" text-anchor="middle" letter-spacing="0.7">
<text x="27.95" y="469.3">11</text>
<text x="91.95" y="469.3">13</text>
<text x="155.95" y="469.3">15</text>
<text x="219.85" y="469.3">17</text>
<text x="283.45" y="469.3">19</text>
<text x="346.85" y="469.3">21</text>
<text x="410.95" y="469.3">23</text>
<text x="474.75" y="469.3">25</text>
<text x="538.45" y="469.3">27</text>
<text x="602.25" y="469.3">29</text>
<text x="697.45" y="469.3" fill="#d0d3da">Feb</text>
<text x="761.15" y="469.3">3</text>
<text x="825.15" y="469.3">5</text>
<text x="888.95" y="469.3">7</text>
<text x="952.65" y="469.3">9</text>
</g>
<rect x="955" y="456" width="1" height="20" fill="#1d1d22"/>
<!-- settings icon -->
<g transform="translate(988 466)" fill="none" stroke="#8e9095" stroke-width="1.25">
<path d="M-5.1 0 L-2.55 -4.4 L2.55 -4.4 L5.1 0 L2.55 4.4 L-2.55 4.4 Z"/>
<circle r="1.5" stroke-width="1.3"/>
</g>
<!-- TV logo -->
<circle cx="40.55" cy="432.9" r="12.6" fill="#131722" stroke="#333438" stroke-width="1"/>
<svg x="33.2" y="429.2" width="16" height="8.2" viewBox="0 4 36 18" preserveAspectRatio="none">
<path fill="#fff" d="M14 22H7V11H0V4h14v18zM28 22h-8l7.5-18h8L28 22z"/><circle fill="#fff" cx="20" cy="8" r="4"/>
</svg>
<!-- blue toggle -->
<rect x="12.3" y="443.9" width="7.6" height="20.2" rx="3" fill="#2244ff"/>
<path d="M15.1 452 L17 454.5 L15.1 457" fill="none" stroke="#0c1650" stroke-width="1"/>
</svg></div>
</body></html>
